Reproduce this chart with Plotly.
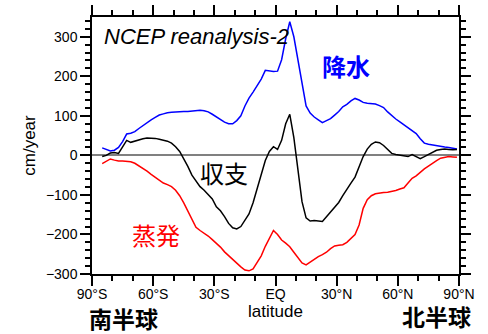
import plotly.graph_objects as go

# Zonal-mean freshwater budget (cm/year) versus latitude, NCEP reanalysis-2
lat = [-85, -83, -81, -79, -77, -75, -73, -71, -69, -67, -65, -63, -61, -59, -57,
       -55, -53, -51, -49, -47, -45, -43, -41, -39, -37, -35, -33, -31, -29, -27,
       -25, -23, -21, -19, -17, -15, -13, -11, -9, -7, -5, -3, -1, 1, 3,
       5, 7, 9, 11, 13, 15, 17, 19, 21, 23, 25, 27, 29, 31, 33,
       35, 37, 39, 41, 43, 45, 47, 49, 51, 53, 55, 57, 59, 61, 63,
       65, 67, 69, 71, 73, 75, 77, 79, 81, 83, 85, 87, 89]

precip = [19, 15, 11, 13, 20, 35, 54, 56, 60, 68, 76, 83, 90, 96, 102,
          105, 108, 109, 110, 110, 111, 111, 112, 113, 114, 113, 110, 104, 97, 89,
          84, 80, 80, 88, 100, 125, 145, 160, 177, 193, 215, 214, 212, 213, 242,
          295, 338, 300, 240, 175, 125, 107, 97, 90, 83, 88, 93, 102, 111, 123,
          129, 138, 144, 140, 134, 132, 131, 130, 126, 121, 110, 100, 92, 85, 77,
          70, 62, 55, 42, 31, 28, 26, 24, 22, 21, 20, 18, 16]

budget = [-3, 0, 6, 7, 5, 22, 38, 33, 36, 40, 42, 44, 44, 43, 41,
          39, 36, 31, 22, 10, -8, -28, -50, -66, -79, -88, -99, -110, -130, -140,
          -155, -172, -183, -186, -180, -165, -148, -120, -82, -45, -13, 10, 22, 15, 38,
          80, 104, 45, -33, -117, -158, -166, -165, -166, -167, -155, -142, -130, -119, -102,
          -85, -70, -55, -28, -3, 16, 28, 34, 32, 25, 15, 5, 2, 0, -2,
          -3, 2, -2, -8, -3, 3, 9, 13, 15, 16, 15, 14, 15]

evap = [-21, -15, -9, -12, -14, -14, -15, -16, -20, -26, -33, -40, -48, -55, -63,
        -70, -74, -79, -88, -102, -120, -140, -163, -182, -190, -196, -204, -213, -222, -232,
        -244, -254, -264, -274, -282, -290, -292, -287, -270, -254, -230, -210, -190, -200, -214,
        -222, -231, -245, -258, -272, -277, -270, -262, -256, -251, -245, -236, -229, -227, -226,
        -220, -211, -200, -176, -134, -112, -102, -97, -95, -94, -93, -91, -89, -85, -82,
        -70, -58, -52, -42, -34, -27, -19, -13, -7, -5, -3, -4, -5]

lat_ticks = [-90, -60, -30, 0, 30, 60, 90]
lat_labels = ["90°S", "60°S", "30°S", "EQ", "30°N", "60°N", "90°N"]

BASE = "Liberation Sans, Arial, sans-serif"
CJK = "Noto Sans CJK JP"

fig = go.Figure()
fig.add_trace(go.Scatter(x=lat, y=precip, mode="lines", name="降水",
                         line=dict(color="#0000ff", width=1.5)))
fig.add_trace(go.Scatter(x=lat, y=budget, mode="lines", name="収支",
                         line=dict(color="#000000", width=1.5)))
fig.add_trace(go.Scatter(x=lat, y=evap, mode="lines", name="蒸発",
                         line=dict(color="#ff0000", width=1.5)))

axis_common = dict(
    showline=True, linecolor="black", linewidth=1.5, mirror="ticks",
    ticks="outside", ticklen=10, tickwidth=1.5, tickcolor="black",
    showgrid=False, automargin=False,
    tickfont=dict(family=BASE, size=14, color="black"),
)

fig.update_xaxes(
    range=[-90, 90], tickvals=lat_ticks, ticktext=lat_labels,
    ticklabelstandoff=-4,
    minor=dict(dtick=10, tick0=-90, ticklen=5, tickwidth=1.5, tickcolor="black",
               ticks="outside"),
    title=dict(text="latitude", font=dict(family=BASE, size=17, color="black"),
               standoff=2),
    zeroline=False, **axis_common,
)
fig.update_yaxes(
    range=[-300, 350], tickvals=[-300, -200, -100, 0, 100, 200, 300],
    minor=dict(dtick=20, tick0=0, ticklen=5, tickwidth=1.5, tickcolor="black",
               ticks="outside"),
    title=dict(text="cm/year", font=dict(family=BASE, size=17, color="black"),
               standoff=6),
    zeroline=True, zerolinecolor="#808080", zerolinewidth=2,
    **axis_common,
)

annotations = [
    dict(x=-85.1, y=301, xref="x", yref="y", xanchor="left", yanchor="middle",
         text="<i>NCEP reanalysis-2</i>", showarrow=False,
         font=dict(family=BASE, size=22, color="black")),
    dict(x=34.6, y=228, xref="x", yref="y", text="<b>降水</b>", showarrow=False,
         font=dict(family=CJK, size=24, color="#0000ff")),
    dict(x=-25.3, y=-44, xref="x", yref="y", text="収支", showarrow=False,
         font=dict(family=CJK, size=24, color="black")),
    dict(x=-58.6, y=-199, xref="x", yref="y", text="蒸発", showarrow=False,
         font=dict(family=CJK, size=24, color="#ff0000")),
    dict(x=0.087, y=-0.171, xref="paper", yref="paper", xanchor="center",
         yanchor="middle", text="<b>南半球</b>",
         showarrow=False, font=dict(family=CJK, size=23, color="black")),
    dict(x=0.94, y=-0.165, xref="paper", yref="paper", xanchor="center",
         yanchor="middle", text="<b>北半球</b>",
         showarrow=False, font=dict(family=CJK, size=23, color="black")),
]

fig.update_layout(
    width=488, height=334,
    margin=dict(l=92, r=29, t=17, b=60),
    paper_bgcolor="white", plot_bgcolor="white",
    showlegend=False,
    annotations=annotations,
)

fig.write_html("out.html")
